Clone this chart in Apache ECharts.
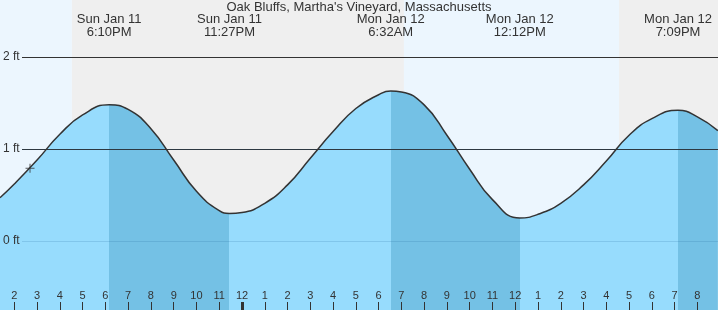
<!DOCTYPE html>
<html><head><meta charset="utf-8">
<script src="https://cdn.jsdelivr.net/npm/echarts@6/dist/echarts.min.js"></script>
<style>html,body{margin:0;padding:0;background:#fff}#c{width:718px;height:310px}</style>
</head><body><div id="c"></div>
<script>
const titleText = "Oak Bluffs, Martha's Vineyard, Massachusetts";
// time in hours since Sun Jan 11 00:00
const hourTimes   = [13.37, 14, 15, 16, 17, 19, 20, 21, 22, 23, 24, 25, 26, 27, 28, 29, 30, 31, 32, 33, 34, 35, 37, 38, 39, 40, 41, 42, 44, 44.9];
const hourHeights = [0.47, 0.62, 0.88, 1.16, 1.37, 1.43, 1.22, 0.88, 0.54, 0.33, 0.31, 0.41, 0.61, 0.90, 1.19, 1.44, 1.59, 1.62, 1.48, 1.15, 0.78, 0.45, 0.29, 0.41, 0.61, 0.87, 1.15, 1.33, 1.35, 1.20];
const extremeTimes   = [18.167, 23.45, 30.533, 36.2, 43.15];
const extremeHeights = [1.48, 0.30, 1.63, 0.25, 1.42];
const extremeTypes   = ['high', 'low', 'high', 'low', 'high'];
const extremeLabels  = ['Sun Jan 11\n6:10PM', 'Sun Jan 11\n11:27PM', 'Mon Jan 12\n6:32AM', 'Mon Jan 12\n12:12PM', 'Mon Jan 12\n7:09PM'];
const sunEventTimes = [16.53, 31.11, 40.56]; // sunset, sunrise, sunset
const hourTicks = [14, 15, 16, 17, 18, 19, 20, 21, 22, 23, 24, 25, 26, 27, 28, 29, 30, 31, 32, 33, 34, 35, 36, 37, 38, 39, 40, 41, 42, 43, 44];
const midnightTicks = [24];
const yTicks = [0, 1, 2];
const nowTime = [14.69];
const nowHeight = [0.79];

const X_MIN = 13.372, X_MAX = 44.905;
const Y_MIN = -0.75, Y_MAX = 2.6196;
const FONT = "'Liberation Sans', Arial, sans-serif";
const DAY = '#ecf6fe', NIGHT = '#efefef';
const WATER = '#97dcfd', WATER_DARK = '#74c1e5';

// merged curve data
const pts = [];
hourTimes.forEach((t, i) => pts.push([t, hourHeights[i]]));
extremeTimes.forEach((t, i) => pts.push([t, extremeHeights[i]]));
pts.sort((a, b) => a[0] - b[0]);

// rising (light) / falling (dark) pieces along time
const edges = [X_MIN - 1].concat(extremeTimes, [X_MAX + 1]);
const pieces = [];
for (let i = 0; i < edges.length - 1; i++) {
  const falling = i > 0 && extremeTypes[i - 1] === 'high';
  pieces.push({ gte: edges[i], lt: edges[i + 1], color: falling ? WATER_DARK : WATER });
}

// day / night bands
const bounds = [X_MIN].concat(sunEventTimes, [X_MAX]);
const bands = [];
for (let i = 0; i < bounds.length - 1; i++) {
  bands.push([{ xAxis: bounds[i], itemStyle: { color: i % 2 === 0 ? DAY : NIGHT } }, { xAxis: bounds[i + 1] }]);
}

const lineStart = X_MIN + (22 / 718) * (X_MAX - X_MIN);
const hourFmt = v => { const k = Math.round(v) % 12; return String(k === 0 ? 12 : k); };
const smoothAmt = 0.5;

const series = [
  { type: 'line', data: [], z: 0, silent: true,
    markArea: { silent: true, data: bands } },
  { type: 'line', data: [], z: 1, silent: true,
    markLine: { silent: true, symbol: 'none', label: { show: false },
      lineStyle: { color: '#333', width: 1, type: 'solid' },
      data: [[{ coord: [lineStart, 2] }, { coord: [X_MAX, 2] }], [{ coord: [lineStart, 1] }, { coord: [X_MAX, 1] }]] } },
  { type: 'line', data: pts, z: 2, smooth: smoothAmt, showSymbol: false, silent: true,
    lineStyle: { width: 0, opacity: 0 }, areaStyle: { opacity: 1, origin: 'start' } },
  { type: 'line', data: [], z: 4, silent: true,
    markLine: { silent: true, symbol: 'none', label: { show: false },
      lineStyle: { color: 'rgba(20,90,140,0.16)', width: 1, type: 'solid' },
      data: [[{ coord: [lineStart, 1] }, { coord: [X_MAX, 1] }], [{ coord: [lineStart, 0] }, { coord: [X_MAX, 0] }]] } },
  { type: 'line', data: pts, z: 5, smooth: smoothAmt, showSymbol: false, silent: true,
    lineStyle: { color: '#333', width: 1.5 } },
  { type: 'scatter', data: nowTime.map((t, i) => [t, nowHeight[i]]), z: 6, silent: true,
    symbol: 'path://M4,0h1v4h4v1h-4v4h-1v-4h-4v-1h4z', symbolSize: 9, itemStyle: { color: '#333' } }
];

const chart = echarts.init(document.getElementById('c'), null, { renderer: 'canvas' });
chart.setOption({
  animation: false,
  textStyle: { fontFamily: FONT },
  title: { text: titleText, left: 'center', top: 1, padding: 0,
    textStyle: { fontSize: 13, fontWeight: 'normal', color: '#333', fontFamily: FONT } },
  grid: { left: 0, right: 0, top: 0, bottom: 0, containLabel: false },
  visualMap: { type: 'piecewise', show: false, dimension: 0, seriesIndex: 2, pieces: pieces,
    outOfRange: { color: WATER } },
  xAxis: [
    { type: 'value', min: X_MIN, max: X_MAX, position: 'bottom', z: 10,
      axisLine: { show: false, onZero: false }, splitLine: { show: false },
      axisTick: { show: true, inside: true, length: 8, customValues: hourTicks, lineStyle: { color: '#333', width: 1 } },
      axisLabel: { show: true, inside: true, margin: 9, customValues: hourTicks, formatter: hourFmt,
        fontSize: 11, color: '#333', fontFamily: FONT } },
    { type: 'value', min: X_MIN, max: X_MAX, position: 'bottom', z: 10,
      axisLine: { show: false, onZero: false }, splitLine: { show: false },
      axisTick: { show: true, inside: true, length: 8, customValues: midnightTicks, lineStyle: { color: '#333', width: 3 } },
      axisLabel: { show: false } },
    { type: 'value', min: X_MIN, max: X_MAX, position: 'top', z: 10,
      axisLine: { show: false, onZero: false }, splitLine: { show: false }, axisTick: { show: false },
      axisLabel: { show: true, inside: true, margin: 13, customValues: extremeTimes,
        formatter: v => { const i = extremeTimes.findIndex(t => Math.abs(t - v) < 1e-6); return i >= 0 ? extremeLabels[i] : ''; },
        fontSize: 13, lineHeight: 13, color: '#333', align: 'center', fontFamily: FONT } }
  ],
  yAxis: { type: 'value', min: Y_MIN, max: Y_MAX, z: 10,
    axisLine: { show: false, onZero: false }, axisTick: { show: false }, splitLine: { show: false },
    axisLabel: { show: true, inside: true, margin: 3, customValues: yTicks, formatter: v => v + ' ft',
      fontSize: 12, color: '#333', fontFamily: FONT } },
  series: series
});
</script>
</body></html>
